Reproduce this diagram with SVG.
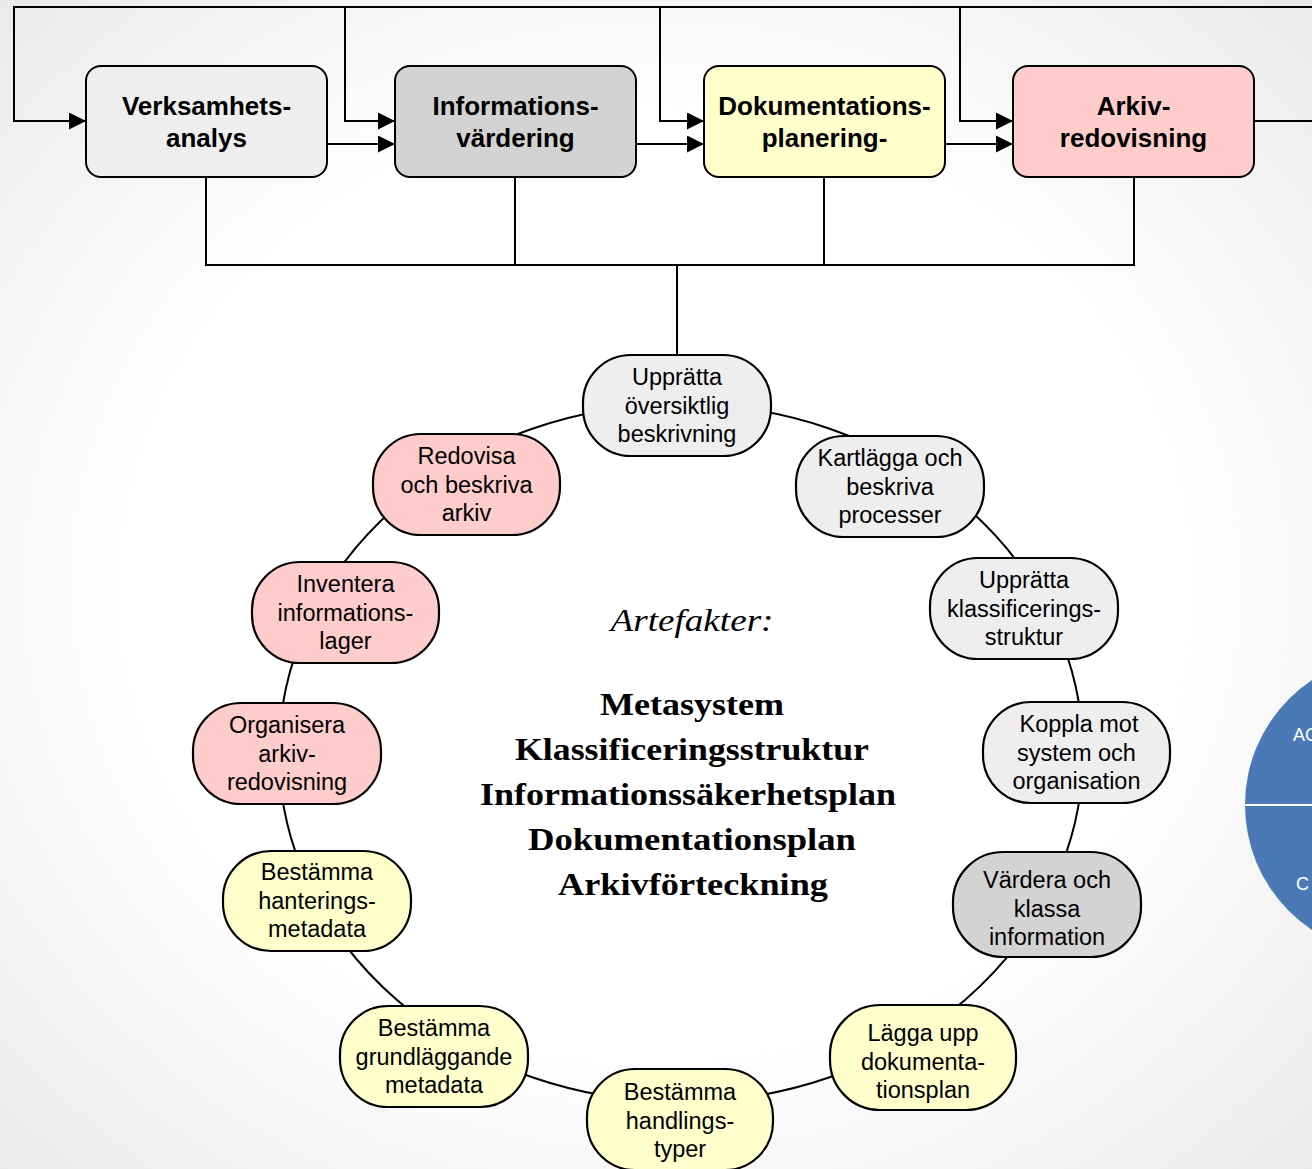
<svg xmlns="http://www.w3.org/2000/svg" width="1312" height="1169" viewBox="0 0 1312 1169">
  <defs>
    <radialGradient id="bg" cx="50%" cy="50%" r="72%">
      <stop offset="0.55" stop-color="#ffffff"/>
      <stop offset="1" stop-color="#e9e9e9"/>
    </radialGradient>
    <marker id="arr" markerUnits="userSpaceOnUse" markerWidth="18" markerHeight="18" refX="17" refY="8.5" orient="auto">
      <path d="M0,0 L17,8.5 L0,17 z" fill="#000"/>
    </marker>
    <style>
      .box { stroke: #000; stroke-width: 2; }
      .node { stroke: #000; stroke-width: 2.2; }
      .lg { fill: #eeeeee; }
      .dg { fill: #d3d3d3; }
      .yl { fill: #ffffcc; }
      .pk { fill: #ffcccc; }
      .bt { font-family: "Liberation Sans", Arial, sans-serif; font-weight: bold; font-size: 26px; text-anchor: middle; fill: #000; }
      .nt { font-family: "Liberation Sans", Arial, sans-serif; font-size: 23.5px; text-anchor: middle; fill: #000; }
      .ln { fill: none; stroke: #000; stroke-width: 2; }
      .ct { font-family: "Liberation Serif", "Times New Roman", serif; font-weight: bold; font-size: 31px; text-anchor: middle; fill: #000; }
      .ci { font-family: "Liberation Serif", "Times New Roman", serif; font-style: italic; font-size: 31px; text-anchor: middle; fill: #000; }
    </style>
  </defs>

  <rect x="0" y="0" width="1312" height="1169" fill="url(#bg)"/>

  <!-- partial blue circle on the right edge -->
  <g id="blue-circle">
    <circle cx="1395" cy="805" r="150" fill="#4a79b6"/>
    <line x1="1245" y1="805" x2="1312" y2="805" stroke="#ffffff" stroke-width="2"/>
    <text x="1293" y="741" font-family="'Liberation Sans', Arial, sans-serif" font-size="18" fill="#ffffff">AC</text>
    <text x="1296" y="890" font-family="'Liberation Sans', Arial, sans-serif" font-size="18" fill="#ffffff">C</text>
  </g>

  <g id="connectors">
    <path class="ln" d="M1254,121 H1320"/>
    <path class="ln" d="M1320,7 H14 V121 H86" marker-end="url(#arr)"/>
    <path class="ln" d="M345,7 V121 H395" marker-end="url(#arr)"/>
    <path class="ln" d="M660,7 V121 H704" marker-end="url(#arr)"/>
    <path class="ln" d="M960,7 V121 H1013" marker-end="url(#arr)"/>
    <path class="ln" d="M327,144 H395" marker-end="url(#arr)"/>
    <path class="ln" d="M636,144 H704" marker-end="url(#arr)"/>
    <path class="ln" d="M945,144 H1013" marker-end="url(#arr)"/>
    <path class="ln" d="M206,177 V265 H1134 V177"/>
    <path class="ln" d="M515,177 V265"/>
    <path class="ln" d="M824,177 V265"/>
    <path class="ln" d="M677,265 V356"/>
    <ellipse class="ln" cx="681" cy="753" rx="402" ry="349"/>
  </g>

  <g id="box-verksamhetsanalys">
    <rect class="box lg" x="86" y="66" width="241" height="111" rx="15"/>
    <text class="bt" x="206.5" y="115">Verksamhets-</text>
    <text class="bt" x="206.5" y="147">analys</text>
  </g>
  <g id="box-informationsvardering">
    <rect class="box dg" x="395" y="66" width="241" height="111" rx="15"/>
    <text class="bt" x="515.5" y="115">Informations-</text>
    <text class="bt" x="515.5" y="147">värdering</text>
  </g>
  <g id="box-dokumentationsplanering">
    <rect class="box yl" x="704" y="66" width="241" height="111" rx="15"/>
    <text class="bt" x="824.5" y="115">Dokumentations-</text>
    <text class="bt" x="824.5" y="147">planering-</text>
  </g>
  <g id="box-arkivredovisning">
    <rect class="box pk" x="1013" y="66" width="241" height="111" rx="15"/>
    <text class="bt" x="1133.5" y="115">Arkiv-</text>
    <text class="bt" x="1133.5" y="147">redovisning</text>
  </g>

  <g id="n1">
    <rect class="node lg" x="583" y="355" width="188" height="101" rx="48"/>
    <text class="nt" x="677" y="385">Upprätta</text>
    <text class="nt" x="677" y="413.5">översiktlig</text>
    <text class="nt" x="677" y="442">beskrivning</text>
  </g>
  <g id="n2">
    <rect class="node lg" x="796" y="436" width="188" height="101" rx="48"/>
    <text class="nt" x="890" y="466">Kartlägga och</text>
    <text class="nt" x="890" y="494.5">beskriva</text>
    <text class="nt" x="890" y="523">processer</text>
  </g>
  <g id="n3">
    <rect class="node lg" x="930" y="558" width="188" height="101" rx="48"/>
    <text class="nt" x="1024" y="588">Upprätta</text>
    <text class="nt" x="1024" y="616.5">klassificerings-</text>
    <text class="nt" x="1024" y="645">struktur</text>
  </g>
  <g id="n4">
    <rect class="node lg" x="983" y="702" width="187" height="101" rx="48"/>
    <text class="nt" x="1079" y="732">Koppla mot</text>
    <text class="nt" x="1076.5" y="760.5">system och</text>
    <text class="nt" x="1076.5" y="789">organisation</text>
  </g>
  <g id="n5">
    <rect class="node dg" x="953" y="852" width="188" height="105" rx="50"/>
    <text class="nt" x="1047" y="888">Värdera och</text>
    <text class="nt" x="1047" y="916.5">klassa</text>
    <text class="nt" x="1047" y="945">information</text>
  </g>
  <g id="n6">
    <rect class="node yl" x="830" y="1005" width="186" height="105" rx="50"/>
    <text class="nt" x="923" y="1041">Lägga upp</text>
    <text class="nt" x="923" y="1069.5">dokumenta-</text>
    <text class="nt" x="923" y="1098">tionsplan</text>
  </g>
  <g id="n7">
    <rect class="node yl" x="587" y="1069" width="186" height="101" rx="48"/>
    <text class="nt" x="680" y="1100">Bestämma</text>
    <text class="nt" x="680" y="1128.5">handlings-</text>
    <text class="nt" x="680" y="1157">typer</text>
  </g>
  <g id="n8">
    <rect class="node yl" x="340" y="1006" width="188" height="101" rx="48"/>
    <text class="nt" x="434" y="1036">Bestämma</text>
    <text class="nt" x="434" y="1064.5">grundläggande</text>
    <text class="nt" x="434" y="1093">metadata</text>
  </g>
  <g id="n9">
    <rect class="node yl" x="223" y="851" width="188" height="100" rx="48"/>
    <text class="nt" x="317" y="880">Bestämma</text>
    <text class="nt" x="317" y="908.5">hanterings-</text>
    <text class="nt" x="317" y="937">metadata</text>
  </g>
  <g id="n10">
    <rect class="node pk" x="193" y="703" width="188" height="101" rx="48"/>
    <text class="nt" x="287" y="733">Organisera</text>
    <text class="nt" x="287" y="761.5">arkiv-</text>
    <text class="nt" x="287" y="790">redovisning</text>
  </g>
  <g id="n11">
    <rect class="node pk" x="252" y="562" width="187" height="101" rx="48"/>
    <text class="nt" x="345.5" y="592">Inventera</text>
    <text class="nt" x="345.5" y="620.5">informations-</text>
    <text class="nt" x="345.5" y="649">lager</text>
  </g>
  <g id="n12">
    <rect class="node pk" x="373" y="434" width="187" height="101" rx="48"/>
    <text class="nt" x="466.5" y="464">Redovisa</text>
    <text class="nt" x="466.5" y="492.5">och beskriva</text>
    <text class="nt" x="466.5" y="521">arkiv</text>
  </g>

  <g id="artefakter">
    <text class="ci" x="692" y="631" textLength="163" lengthAdjust="spacingAndGlyphs">Artefakter:</text>
    <text class="ct" x="692" y="715" textLength="184" lengthAdjust="spacingAndGlyphs">Metasystem</text>
    <text class="ct" x="692" y="760" textLength="354" lengthAdjust="spacingAndGlyphs">Klassificeringsstruktur</text>
    <text class="ct" x="688" y="805" textLength="416" lengthAdjust="spacingAndGlyphs">Informationssäkerhetsplan</text>
    <text class="ct" x="692" y="850" textLength="328" lengthAdjust="spacingAndGlyphs">Dokumentationsplan</text>
    <text class="ct" x="693" y="895" textLength="270" lengthAdjust="spacingAndGlyphs">Arkivförteckning</text>
  </g>
</svg>
